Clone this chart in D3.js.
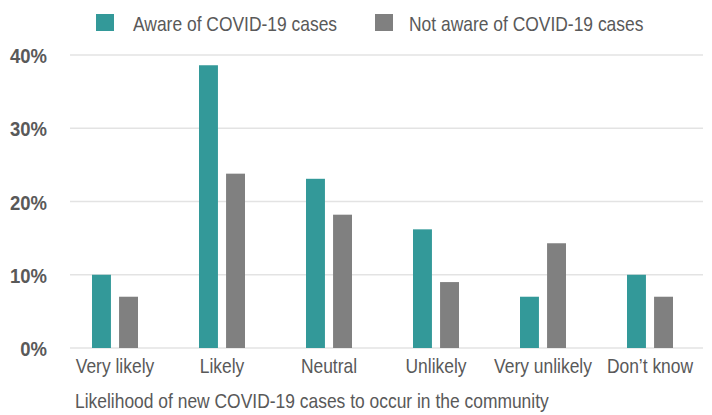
<!DOCTYPE html>
<html>
<head>
<meta charset="utf-8">
<script src="https://cdn.jsdelivr.net/npm/d3@7"></script>
<style>
  html, body { margin: 0; padding: 0; background: #fff; }
  svg { display: block; }
  text { font-family: "Liberation Sans", Arial, sans-serif; fill: #595959; }
</style>
</head>
<body>
<svg id="chart" width="712" height="415"></svg>
<script>
const categories = ["Very likely", "Likely", "Neutral", "Unlikely", "Very unlikely", "Don\u2019t know"];
const seriesNames = ["Aware of COVID-19 cases", "Not aware of COVID-19 cases"];
const awareValues = [10.0, 38.6, 23.1, 16.2, 7.0, 10.0];
const notAwareValues = [7.0, 23.8, 18.2, 9.0, 14.3, 7.0];
const yTicks = [0, 10, 20, 30, 40];
const xTitle = "Likelihood of new COVID-19 cases to occur in the community";
const colors = ["#339999", "#808080"];

const svg = d3.select("#chart");

// condense text horizontally to mimic a narrow typeface
function condense(sel, k) {
  sel.each(function () {
    const w = this.getComputedTextLength();
    d3.select(this).attr("textLength", w * k).attr("lengthAdjust", "spacingAndGlyphs");
  });
}

const x = d3.scaleBand().domain(categories).range([61.5, 703.5]).padding(0);
const x1 = d3.scaleBand().domain(seriesNames).range([-23, 23]).paddingInner(0.3);
const y = d3.scaleLinear().domain([0, 40]).range([348, 55]);

// gridlines
svg.append("g").selectAll("line").data(yTicks).join("line")
  .attr("x1", 70).attr("x2", 703)
  .attr("y1", d => y(d)).attr("y2", d => y(d))
  .attr("stroke", "#e3e3e3").attr("stroke-width", 1.5);

// y tick labels
svg.append("g").selectAll("text").data(yTicks).join("text")
  .attr("x", 47).attr("y", d => y(d) + 8)
  .attr("text-anchor", "end")
  .style("font-size", "21px").style("font-weight", "bold")
  .text(d => d + "%")
  .call(condense, 0.88);

// bars
const data = [awareValues, notAwareValues];
seriesNames.forEach((s, si) => {
  svg.append("g").selectAll("rect").data(categories).join("rect")
    .attr("x", c => x(c) + x.bandwidth() / 2 + x1(s))
    .attr("width", x1.bandwidth())
    .attr("y", (c, i) => y(data[si][i]))
    .attr("height", (c, i) => y(0) - y(data[si][i]))
    .attr("fill", colors[si]);
});

// category labels
svg.append("g").selectAll("text").data(categories).join("text")
  .attr("x", c => x(c) + x.bandwidth() / 2)
  .attr("y", 373)
  .attr("text-anchor", "middle")
  .style("font-size", "21px")
  .text(c => c)
  .call(condense, 0.83);

// x axis title
svg.append("text")
  .attr("x", 75).attr("y", 408)
  .style("font-size", "21px")
  .text(xTitle)
  .call(condense, 0.83);

// legend
const legendX = [96, 375];
const legendTextX = [133, 409];
seriesNames.forEach((s, si) => {
  svg.append("rect").attr("x", legendX[si]).attr("y", 14).attr("width", 18).attr("height", 17).attr("fill", colors[si]);
  svg.append("text").attr("x", legendTextX[si]).attr("y", 30.5)
    .style("font-size", "21px").text(s)
    .call(condense, 0.83);
});
</script>
</body>
</html>
